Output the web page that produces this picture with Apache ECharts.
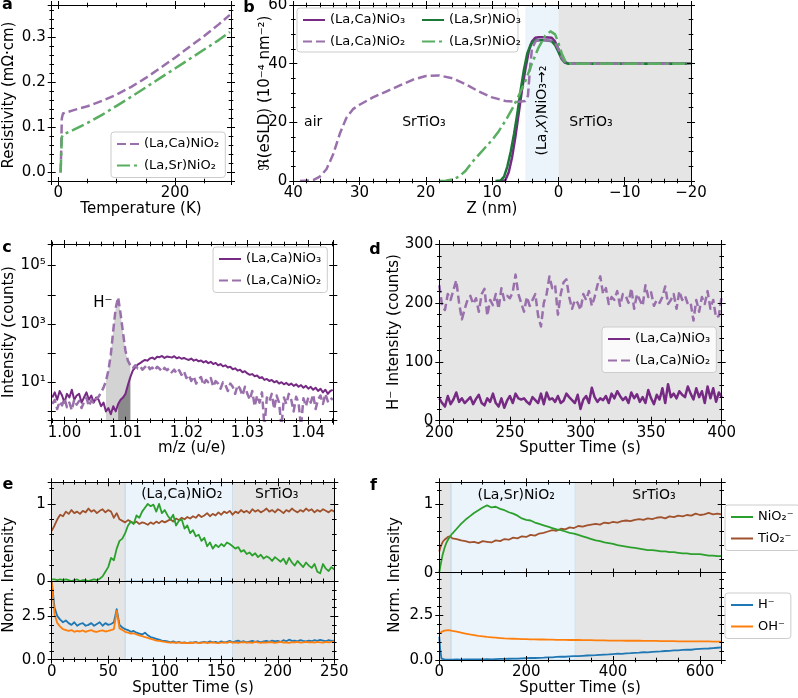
<!DOCTYPE html>
<html><head><meta charset="utf-8">
<script src="https://cdn.jsdelivr.net/npm/echarts@6/dist/echarts.min.js"></script>
<style>html,body{margin:0;padding:0;background:#fff}#c{width:798px;height:698px}</style>
</head><body><div id="c"></div>
<script>
// ================= DATA =================
// Panel a: resistivity vs temperature  [T (K), rho (mOhm cm)]
const aCaNiO2 = [[4,0],[5,0.05],[6,0.12],[8,0.131],[25,0.138],[50,0.147],[75,0.159],[100,0.173],[125,0.19],[150,0.21],[175,0.232],[200,0.255],[225,0.279],[250,0.303],[275,0.329],[294,0.35]];
const aSrNiO2 = [[4,0],[5,0.04],[6,0.078],[8,0.084],[25,0.094],[50,0.11],[75,0.128],[100,0.148],[125,0.168],[150,0.189],[175,0.21],[200,0.231],[225,0.252],[250,0.273],[275,0.294],[294,0.312]];

// Panel b: eSLD profiles [Z (nm), Re(eSLD)]
const bCaNiO3 = [[9,0],[8.5,0],[8,0.3],[7.5,3],[7,8],[6.5,15],[6,23],[5.5,31],[5,38],[4.5,44],[4,47.5],[3.5,48.8],[3,49],[2,49],[1,48.8],[0.5,47.5],[0,45],[-0.5,42],[-1,40.5],[-1.5,40],[-20,40]];
const bSrNiO3 = [[9.5,0],[8.7,0.2],[8.2,1.5],[7.7,5],[7.2,10],[6.7,16],[6.2,23],[5.7,31],[5.2,38],[4.7,43.5],[4.2,46.5],[3.7,47.8],[3,48],[2,48],[1,47.6],[0.5,46.3],[0,44],[-0.5,41.5],[-1,40.3],[-1.5,40],[-20,40]];
const bCaNiO2 = [[39,0],[37,0.3],[36,1.5],[35,4],[34,9],[33,16],[32,21.5],[31,24.5],[30,26],[28,28.5],[26,30.5],[24,32.5],[22,34.5],[20,35.8],[18,36],[16,35],[14,33],[12,30.5],[10,28.5],[8,27.3],[6,27],[5,27.3],[4.6,29],[4.3,38],[4,45],[3.5,47.5],[3,48],[2,48],[1,47.8],[0.5,47],[0,45],[-0.5,42],[-1,40.5],[-1.5,40],[-20,40]];
const bSrNiO2 = [[18,0],[17,0.1],[16,0.5],[15,1.5],[14,3.5],[13,6.5],[12,9],[11,11.5],[10,14],[9,17],[8,20.5],[7,24.5],[6,29],[5,34],[4,40],[3,45.5],[2,49.5],[1.2,51],[0.5,50],[0,47],[-0.5,43.5],[-1,41],[-1.5,40.2],[-2,40],[-20,40]];

// Panel c: mass spectra, m/z grid start/step and intensities (counts)
const cMzStart = 0.998, cMzStep = 0.0004;
const cNiO3 = [3,4.5,2.5,5,3.5,2,4,3,5.5,2.5,3.5,4,2,3,4.5,2.5,3.5,2,3,2.5,
 1.5,2,1,1.3,0.8,1.5,1,1.8,2.5,3,4,8,15,25,
 32,40,45,52,58,55,65,70,62,75,72,80,68,76,74,70,78,66,72,64,68,
 62,58,65,55,60,52,56,48,53,45,50,42,46,38,42,35,38,32,34,28,30,25,27,22,24,
 20,18,19,16,17,14,15,12,13,11,12,10,11,9,10,8.5,9.5,8,9,7.5,8.5,7,8,6.5,7.5,
 6,7,5.5,6.5,5,6,4.5,5.5,4,5,5.5];
const cNiO2 = [1.8,2.5,1.2,2.2,1.6,2.8,1.4,2.0,1.1,2.6,1.7,2.3,1.3,2.1,2.9,1.5,2.4,1.9,2.7,3.2,
 4.5,6.5,11,25,90,600,3500,8200,2200,500,120,55,38,30,
 38,30,35,27,33,40,28,32,25,34,29,23,31,26,30,22,27,20,26,18,24,
 14,18,11,16,9,13,15,8,12,10,14,7,11,9,6,10,8,5,9,7,4,8,6,3.5,7,
 4,2.5,5,1.5,3.5,2,4.5,0.3,3,2.2,4,1.2,3.5,2,0.3,3,1.8,4,2.5,1,3.2,2,0.3,2.8,1.5,
 3,2,3.8,1.2,2.6,3.5,1.8,4,2.2,3,2.5];

// Panel d: H- intensity vs sputter time (t = 200..400 s, step 2 s)
const dTStart = 200, dTStep = 2;
const dNiO3 = [38,30,24,42,28,36,48,32,38,30, 35,40,28,37,44,30,26,38,32,46, 30,24,38,22,34,42,30,46,38,36,
 38,32,28,40,35,30,46,28,48,36, 38,32,42,30,34,46,40,35,30,44, 20,36,42,30,56,40,32,38,35,42,
 30,46,38,50,42,35,40,30,48,38, 45,32,40,30,52,38,28,44,36,55, 30,62,40,46,38,50,44,40,58,46,
 36,55,40,50,30,58,38,55,32,48, 40];
const dNiO2 = [230,195,188,215,205,222,238,200,172,190, 205,212,198,208,185,215,224,178,205,196,
 215,190,225,205,212,208,218,248,215,200, 185,210,195,205,215,178,160,200,215,245,
 225,230,180,215,235,240,210,190,205,200, 188,215,205,220,195,210,230,245,215,225,
 198,210,205,220,195,215,212,200,225,190, 215,205,195,230,210,218,195,205,200,210,
 228,198,205,215,190,220,205,212,198,200, 170,205,185,210,198,220,190,205,175,178, 212];

// Panel e: depth profile (La,Ca)NiO2, t = 0..250 s step 2.5 s
const eTStart = 0, eTStep = 2.5;
const eTiO2 = [0.65,0.72,0.80,0.86,0.84,0.90,0.87,0.92,0.88,0.90, 0.87,0.91,0.89,0.94,0.90,0.92,0.88,0.91,0.93,0.89,
 0.92,0.90,0.82,0.88,0.80,0.78,0.76,0.79,0.77,0.75, 0.77,0.74,0.76,0.75,0.73,0.76,0.74,0.77,0.75,0.78,
 0.76,0.78,0.80,0.77,0.81,0.79,0.82,0.80,0.83,0.81, 0.84,0.82,0.86,0.83,0.85,0.88,0.84,0.87,0.85,0.89,
 0.86,0.90,0.88,0.91,0.86,0.90,0.88,0.92,0.89,0.91, 0.88,0.93,0.90,0.92,0.89,0.91,0.94,0.90,0.92,0.89,
 0.93,0.91,0.88,0.92,0.90,0.94,0.91,0.89,0.92,0.90, 0.94,0.91,0.93,0.89,0.92,0.90,0.93,0.91,0.89,0.92, 0.90];
const eNiO2 = [0.02,0.02,0.01,0.02,0.01,0.02,0.01,0.00,0.01,0.02, 0.00,0.01,0.01,0.00,0.01,0.02,0.01,0.03,0.06,0.12,
 0.18,0.30,0.27,0.42,0.52,0.55,0.62,0.72,0.77,0.74, 0.85,0.82,0.90,0.95,1.00,0.97,0.99,0.90,1.00,0.88,
 0.92,0.85,0.80,0.86,0.72,0.78,0.80,0.68,0.72,0.62, 0.66,0.58,0.60,0.52,0.56,0.45,0.50,0.42,0.47,0.44,
 0.48,0.45,0.50,0.48,0.45,0.42,0.44,0.38,0.40,0.35, 0.37,0.33,0.36,0.31,0.34,0.29,0.32,0.30,0.26,0.31,
 0.28,0.25,0.29,0.22,0.30,0.24,0.20,0.26,0.22,0.18, 0.24,0.20,0.17,0.22,0.12,0.10,0.22,0.16,0.13,0.18, 0.15];
const eH = [4.50,3.00,2.50,2.30,2.15,2.25,2.10,2.00,2.15,1.95, 2.05,2.10,1.95,2.00,2.10,1.95,2.05,2.15,1.95,2.10,
 2.00,2.05,2.15,2.90,2.00,1.85,1.75,1.70,1.60,1.65, 1.55,1.50,1.45,1.55,1.40,1.30,1.25,1.20,1.15,1.10,
 1.08,1.05,1.00,1.05,0.98,1.02,0.97,1.00,0.95,1.00, 0.98,1.02,0.96,1.00,1.03,0.98,1.05,1.00,1.02,0.97,
 1.05,1.00,1.03,1.08,1.00,1.05,1.10,1.02,1.06,1.00, 1.04,1.08,1.02,1.06,1.00,1.05,1.08,1.03,1.10,1.05,
 1.08,1.02,1.12,1.06,1.15,1.08,1.10,1.05,1.12,1.08, 1.05,1.10,1.06,1.12,1.08,1.14,1.10,1.06,1.12,1.08, 1.10];
const eOH = [4.50,2.60,2.10,1.90,1.75,1.70,1.65,1.70,1.60,1.65, 1.62,1.68,1.60,1.65,1.70,1.62,1.60,1.65,1.68,1.62,
 1.65,1.70,1.75,2.80,1.80,1.70,1.60,1.55,1.50,1.52, 1.45,1.40,1.35,1.30,1.25,1.20,1.15,1.10,1.08,1.05,
 1.02,1.00,0.98,1.00,0.97,0.99,0.96,0.98,0.95,0.97, 0.96,0.99,0.95,0.97,1.00,0.96,0.98,1.00,0.97,0.95,
 0.98,1.00,0.97,1.02,0.98,1.00,0.97,0.99,1.01,0.98, 1.00,0.97,1.02,0.99,0.97,1.00,0.98,1.01,0.99,0.97,
 1.00,1.02,0.98,1.00,0.97,1.01,0.99,1.02,0.98,1.00, 1.03,0.99,1.01,0.98,1.02,1.00,0.98,1.03,1.00,1.02, 1.05];

// Panel f: depth profile (La,Sr)NiO2
const fTime = [0,2,5,8,12,16,20,25,30,40,50,60,70,80,90,100,110,120,130,140,150,160,170,180,190,200,210,220,230,240,250,260,270,280,290,300,310,320,330,340,350,360,370,380,390,400,410,420,430,440,450,460,470,480,490,500,510,520,530,540,550,560,570,580,590,600,610,620,630,640,650];
const fNiO2 = [0.00,0.08,0.18,0.27,0.36,0.43,0.48,0.53,
 0.57,0.64,0.71,0.77,0.82,0.87,0.91,0.95,0.98,0.95, 0.96,0.93,0.91,0.88,0.86,0.83,0.79,0.77,0.76,0.73,
 0.71,0.69,0.67,0.65,0.63,0.62,0.60,0.58,0.57,0.55, 0.53,0.51,0.49,0.47,0.46,0.44,0.43,0.42,0.40,0.39,
 0.38,0.37,0.36,0.35,0.34,0.33,0.33,0.32,0.31,0.31, 0.30,0.30,0.29,0.28,0.28,0.27,0.27,0.27,0.26,0.25, 0.25,0.24,0.24];
const fTiO2 = [0.31,0.36,0.41,0.45,0.48,0.50,0.52,0.53,
 0.50,0.49,0.47,0.46,0.44,0.45,0.43,0.46,0.45,0.44, 0.47,0.46,0.49,0.48,0.51,0.50,0.53,0.52,0.55,0.54,
 0.57,0.58,0.60,0.62,0.61,0.64,0.63,0.66,0.65,0.68, 0.67,0.69,0.70,0.71,0.70,0.73,0.72,0.74,0.73,0.75,
 0.76,0.75,0.77,0.78,0.77,0.79,0.78,0.80,0.81,0.79, 0.82,0.81,0.83,0.82,0.84,0.83,0.86,0.84,0.85,0.87, 0.85,0.86,0.85];
const fH = [1.30,0.60,0.08,0.04,0.03,0.03,0.02,0.02,
 0.02,0.03,0.02,0.03,0.03,0.04,0.03,0.04,0.05,0.04, 0.05,0.06,0.06,0.07,0.08,0.08,0.09,0.10,0.11,0.11,
 0.12,0.13,0.15,0.15,0.17,0.18,0.18,0.20,0.22,0.21, 0.23,0.25,0.26,0.27,0.29,0.30,0.31,0.33,0.35,0.34,
 0.37,0.38,0.40,0.41,0.43,0.42,0.45,0.47,0.48,0.50, 0.51,0.53,0.54,0.56,0.58,0.57,0.60,0.62,0.63,0.64, 0.66,0.68,0.70];
const fOH = [1.48,1.52,1.56,1.60,1.63,1.65,1.66,1.65,
 1.62,1.57,1.52,1.47,1.42,1.38,1.34,1.31,1.28,1.26, 1.24,1.22,1.20,1.19,1.18,1.17,1.16,1.16,1.15,1.15,
 1.14,1.14,1.13,1.13,1.12,1.12,1.12,1.11,1.11,1.11, 1.10,1.10,1.10,1.09,1.09,1.09,1.08,1.08,1.08,1.08,
 1.07,1.07,1.07,1.07,1.06,1.06,1.06,1.06,1.05,1.05, 1.05,1.05,1.04,1.04,1.04,1.04,1.03,1.03,1.03,1.03, 1.02,1.02,1.02];

// Region boundaries
const bRegions = {film: [5, 0], sub: [0, -20]};
const eRegions = {pre: [0, 65], film: [65, 160], sub: [160, 250]};
const fRegions = {pre: [0, 27], film: [27, 313], sub: [313, 650]};

// ================= STYLE / BUILD =================
const FONT = 'DejaVu Sans';
const C_CA3 = '#762a83', C_CA2 = '#9970ab', C_SR3 = '#1b7837', C_SR2 = '#5aae61';
const C_NI = '#2ca02c', C_TI = '#a0522d', C_H = '#1f77b4', C_OH = '#ff7f0e';
const GRAY = '#e5e5e5', LBLUE = '#ebf4fa', EDGE = '#a9cfe6';
const N_CA3 = '(La,Ca)NiO₃', N_CA2 = '(La,Ca)NiO₂', N_SR3 = '(La,Sr)NiO₃', N_SR2 = '(La,Sr)NiO₂';
const N_NI = 'NiO₂⁻', N_TI = 'TiO₂⁻', N_H = 'H⁻', N_OH = 'OH⁻';

const zip = (xs, ys) => xs.map((x, i) => [x, ys[i]]);
const grid1D = (start, step, n) => Array.from({length: n}, (_, i) => +(start + step * i).toFixed(6));
const cMz = grid1D(cMzStart, cMzStep, cNiO3.length);
const dT = grid1D(dTStart, dTStep, dNiO3.length);
const eT = grid1D(eTStart, eTStep, eTiO2.length);

const SUPD = {'0':'⁰','1':'¹','2':'²','3':'³','4':'⁴','5':'⁵','6':'⁶','7':'⁷','8':'⁸','9':'⁹','-':'⁻'};
const sup = n => String(n).split('').map(ch => SUPD[ch]).join('');
const near = (v, iv) => { const r = v / iv; return Math.abs(r - Math.round(r)) < 1e-4; };
const mstr = v => { const s = String(v); return s.replace('-', '\u2212'); };

const grids = [
  {left: 51.7, top: 5, width: 179.3, height: 176},
  {left: 293.3, top: 5, width: 397.7, height: 176},
  {left: 51.7, top: 244, width: 281.6, height: 176.7},
  {left: 439.3, top: 244, width: 282.4, height: 176.7, show: true, backgroundColor: GRAY, borderWidth: 0},
  {left: 51.7, top: 482.3, width: 282.6, height: 98.7},
  {left: 51.7, top: 581, width: 282.6, height: 78.7},
  {left: 439.3, top: 482.3, width: 282.4, height: 90.4},
  {left: 439.3, top: 572.7, width: 282.4, height: 87.3}
].map(g => Object.assign({containLabel: false, outerBoundsMode: 'none'}, g));

const intF = v => mstr(Math.round(v));
const xSpec = [
  {min: -11.3, max: 296, iv: 200, minor: 4, fmt: intF},
  {min: -20, max: 40, iv: 10, minor: 5, inverse: true, fmt: intF},
  {min: 0.9979, max: 1.0441, iv: 0.01, minor: 5, fmt: v => v.toFixed(2)},
  {min: 200, max: 400, iv: 50, minor: 5, fmt: intF},
  {min: 0, max: 250, iv: 50, minor: 5, fmt: intF, labels: false},
  {min: 0, max: 250, iv: 50, minor: 5, fmt: intF},
  {min: 0, max: 650, iv: 200, minor: 4, fmt: intF, labels: false},
  {min: 0, max: 650, iv: 200, minor: 4, fmt: intF}
];
const ySpec = [
  {min: -0.019, max: 0.372, iv: 0.1, minor: 5, fmt: v => v.toFixed(1)},
  {min: 0, max: 60, iv: 20, minor: 4, fmt: intF},
  {type: 'log', min: 0.48, max: 550000},
  {min: 0, max: 300, iv: 100, minor: 5, fmt: intF},
  {min: 0, max: 1.28, iv: 1, minor: 5, fmt: intF},
  {min: 0, max: 4.52, iv: 2.5, minor: 5, fmt: v => v.toFixed(1)},
  {min: 0, max: 1.316, iv: 1, minor: 5, fmt: intF},
  {min: 0, max: 4.85, iv: 2.5, minor: 5, fmt: v => v.toFixed(1)}
];

const TICK = {color: '#000', width: 1};
function axisSet(dim, g, s) {
  const isX = dim === 'x';
  const pos = isX ? ['bottom', 'top'] : ['left', 'right'];
  const base = {gridIndex: g, type: s.type || 'value', min: s.min, max: s.max, inverse: !!s.inverse,
    splitLine: {show: false}, silent: true, z: 5, axisPointer: {show: false}};
  if (s.type === 'log') base.logBase = 10; else { base.minInterval = s.iv; base.maxInterval = s.iv; }
  const fmt = s.type === 'log'
    ? v => { const e = Math.log10(v), n = Math.round(e); return (Math.abs(e - n) < 1e-6 && Math.abs(n % 2) === 1) ? '10' + sup(n) : ''; }
    : v => near(v, s.iv) ? s.fmt(v) : '';
  const out = [];
  pos.forEach((p, pi) => {
    [false, true].forEach(inside => {
      out.push(Object.assign({}, base, {
        position: p,
        axisLine: {show: !inside, onZero: false, lineStyle: {color: '#000', width: 1}},
        axisTick: {show: true, inside: inside, length: 4, lineStyle: TICK},
        minorTick: {show: !!s.minor, splitNumber: s.minor || 5, length: 2.3, lineStyle: TICK},
        axisLabel: {show: pi === 0 && !inside && s.labels !== false, formatter: fmt, hideOverlap: false,
          margin: isX ? 5 : 6, fontSize: 15, fontFamily: FONT, color: '#000'}
      }));
    });
  });
  return out;
}
let xAxes = [], yAxes = [];
grids.forEach((g, i) => { xAxes = xAxes.concat(axisSet('x', i, xSpec[i])); yAxes = yAxes.concat(axisSet('y', i, ySpec[i])); });

const series = [];
function add(s) { series.push(s); return series.length - 1; }
function ln(name, g, data, color, width, dash, z) {
  return add({type: 'line', name: name, xAxisIndex: 4 * g, yAxisIndex: 4 * g, data: data, symbol: 'none', showSymbol: false,
    lineStyle: {color: color, width: width, type: dash || 'solid', cap: 'butt', join: 'round'}, itemStyle: {color: color},
    z: z || 3, animation: false, emphasis: {disabled: true}, silent: true, clip: true});
}
function band(g, areas) {
  return add({type: 'line', xAxisIndex: 4 * g, yAxisIndex: 4 * g, data: [], z: 1, silent: true, animation: false,
    markArea: {silent: true, animation: false, data: areas.map(a => [
      {xAxis: a[0], itemStyle: {color: a[2], borderColor: a[3] || a[2], borderWidth: a[3] ? 0.8 : 0}}, {xAxis: a[1]}])}});
}
const DASH = [9, 4], DASHDOT = [13, 4, 3, 4];

// backgrounds
band(1, [[bRegions.film[0], bRegions.film[1], LBLUE], [bRegions.sub[0], bRegions.sub[1], GRAY]]);
[4, 5].forEach(g => band(g, [[eRegions.pre[0], eRegions.pre[1], GRAY], [eRegions.film[0], eRegions.film[1], LBLUE, EDGE], [eRegions.sub[0], eRegions.sub[1], GRAY]]));
[6, 7].forEach(g => band(g, [[fRegions.pre[0], fRegions.pre[1], GRAY], [fRegions.film[0], fRegions.film[1], LBLUE, EDGE], [fRegions.sub[0], fRegions.sub[1], GRAY]]));

// a
const sA = ln(N_CA2, 0, aCaNiO2, C_CA2, 2.5, DASH);
ln(N_SR2, 0, aSrNiO2, C_SR2, 2.5, DASHDOT);
// b
const sB = ln(N_CA3, 1, bCaNiO3, C_CA3, 2.5);
ln(N_SR3, 1, bSrNiO3, C_SR3, 2.5);
ln(N_CA2, 1, bCaNiO2, C_CA2, 2.5, DASH);
ln(N_SR2, 1, bSrNiO2, C_SR2, 2.5, DASHDOT);
// c
add({type: 'line', xAxisIndex: 8, yAxisIndex: 8, data: zip(cMz.slice(22, 33), cNiO2.slice(22, 33)), symbol: 'none',
  lineStyle: {width: 0, opacity: 0}, areaStyle: {color: '#d3d3d3', opacity: 1, origin: 'start'}, z: 2, silent: true, animation: false});
add({type: 'line', xAxisIndex: 8, yAxisIndex: 8, data: zip(cMz.slice(27, 33), cNiO3.slice(27, 33)), symbol: 'none',
  lineStyle: {width: 0, opacity: 0}, areaStyle: {color: '#8a8a8a', opacity: 1, origin: 'start'}, z: 2, silent: true, animation: false});
const sC = ln(N_CA3, 2, zip(cMz, cNiO3), C_CA3, 2);
ln(N_CA2, 2, zip(cMz, cNiO2), C_CA2, 2.5, [8, 4]);
// d
ln(N_CA3, 3, zip(dT, dNiO3), C_CA3, 2.5);
ln(N_CA2, 3, zip(dT, dNiO2), C_CA2, 2.5, [8, 4]);
// e
const sE = ln(N_TI, 4, zip(eT, eTiO2), C_TI, 1.8);
ln(N_NI, 4, zip(eT, eNiO2), C_NI, 1.8);
ln(N_H, 5, zip(eT, eH), C_H, 1.8);
ln(N_OH, 5, zip(eT, eOH), C_OH, 1.8);
// f
const sF = ln(N_TI, 6, zip(fTime, fTiO2), C_TI, 1.8);
ln(N_NI, 6, zip(fTime, fNiO2), C_NI, 1.8);
ln(N_H, 7, zip(fTime, fH), C_H, 1.8);
ln(N_OH, 7, zip(fTime, fOH), C_OH, 1.8);

function leg(names, left, top, bg) {
  return {data: names, left: left, top: top, orient: 'vertical', selectedMode: false,
    backgroundColor: bg === false ? 'transparent' : 'rgba(255,255,255,0.8)', borderColor: bg === false ? 'transparent' : '#cccccc',
    borderWidth: bg === false ? 0 : 1, borderRadius: 3, padding: [5, 6, 5, 5], itemWidth: 22, itemHeight: 14, itemGap: 7.5,
    itemStyle: {opacity: 0, borderWidth: 0},
    textStyle: {fontSize: 13, fontFamily: FONT, color: '#000', lineHeight: 14}, z: 6};
}

const option = {
  animation: false,
  textStyle: {fontFamily: FONT},
  grid: grids, xAxis: xAxes, yAxis: yAxes, series: series,
  legend: [
    leg([N_CA2, N_SR2], 111, 132),
    leg([N_CA3, N_CA2], 297, 8, false),
    leg([N_SR3, N_SR2], 416, 8, false),
    leg([N_CA3, N_CA2], 213, 247),
    leg([N_CA3, N_CA2], 602, 327),
    leg([N_NI, N_TI], 725, 505),
    leg([N_H, N_OH], 725, 593)
  ]
};

const chart = echarts.init(document.getElementById('c'), null, {renderer: 'canvas'});
chart.setOption(option);

function txt(x, y, text, o) {
  o = o || {};
  return {type: 'text', x: x, y: y, rotation: o.rot || 0, silent: true, z: 100,
    style: {text: text, fill: '#000', fontSize: o.size || 15, fontFamily: FONT, fontWeight: o.bold ? 'bold' : 'normal',
      align: o.align || 'center', verticalAlign: 'middle', textAlign: o.align || 'center', textVerticalAlign: 'middle', rich: o.rich}};
}
const P = (si, x, y) => chart.convertToPixel({seriesIndex: si}, [x, y]);
const R90 = Math.PI / 2;
const g = [];
// panel letters
g.push(txt(7.5, 4.5, 'a', {bold: true, size: 16}), txt(249, 7.5, 'b', {bold: true, size: 16}), txt(7, 247.5, 'c', {bold: true, size: 16}),
  txt(375, 249.5, 'd', {bold: true, size: 16}), txt(8, 484.5, 'e', {bold: true, size: 16}), txt(373.5, 486, 'f', {bold: true, size: 16}));
// axis titles
g.push(txt(141, 209.5, 'Temperature (K)'), txt(492, 209.5, 'Z (nm)'), txt(192, 448.5, 'm/z (u/e)'), txt(580, 448.5, 'Sputter Time (s)'),
  txt(193, 688, 'Sputter Time (s)'), txt(580, 688, 'Sputter Time (s)'));
g.push(txt(9, 95, 'Resistivity (mΩ·cm)', {rot: R90}), txt(265, 93, 'ℜ(eSLD) (10⁻⁴ nm⁻²)', {rot: R90}),
  txt(9, 332, 'Intensity (counts)', {rot: R90}), txt(394, 332, 'H⁻ Intensity (counts)', {rot: R90}),
  txt(9, 575, 'Norm. Intensity', {rot: R90}), txt(395, 575, 'Norm. Intensity', {rot: R90}));
// in-plot annotations (data coordinates)
let p;
p = P(sB, 37, 20); g.push(txt(p[0], p[1], 'air', {size: 14}));
p = P(sB, 20.3, 20); g.push(txt(p[0], p[1], 'SrTiO₃', {size: 14}));
p = P(sB, -4.9, 20); g.push(txt(p[0], p[1], 'SrTiO₃', {size: 14}));
p = P(sB, 2.5, 24); g.push(txt(p[0], p[1], '(La,{i|X})NiO₃→₂', {size: 14, rot: R90, rich: {i: {fontStyle: 'italic', fontSize: 14, fontFamily: FONT}}}));
p = P(sC, 1.0063, 5100); g.push(txt(p[0], p[1], 'H⁻', {size: 15}));
p = P(sE, 115, 1.12); g.push(txt(p[0], p[1], '(La,Ca)NiO₂', {size: 14}));
p = P(sE, 199, 1.12); g.push(txt(p[0], p[1], 'SrTiO₃', {size: 14}));
p = P(sF, 177, 1.13); g.push(txt(p[0], p[1], '(La,Sr)NiO₂', {size: 14}));
p = P(sF, 494, 1.13); g.push(txt(p[0], p[1], 'SrTiO₃', {size: 14}));
// legend box for panel b (two columns)
g.push({type: 'rect', z: 3, silent: true, shape: {x: 297, y: 8, width: 221, height: 44, r: 3},
  style: {fill: 'rgba(255,255,255,0.8)', stroke: '#cccccc', lineWidth: 1}});
chart.setOption({graphic: g});
</script></body></html>
